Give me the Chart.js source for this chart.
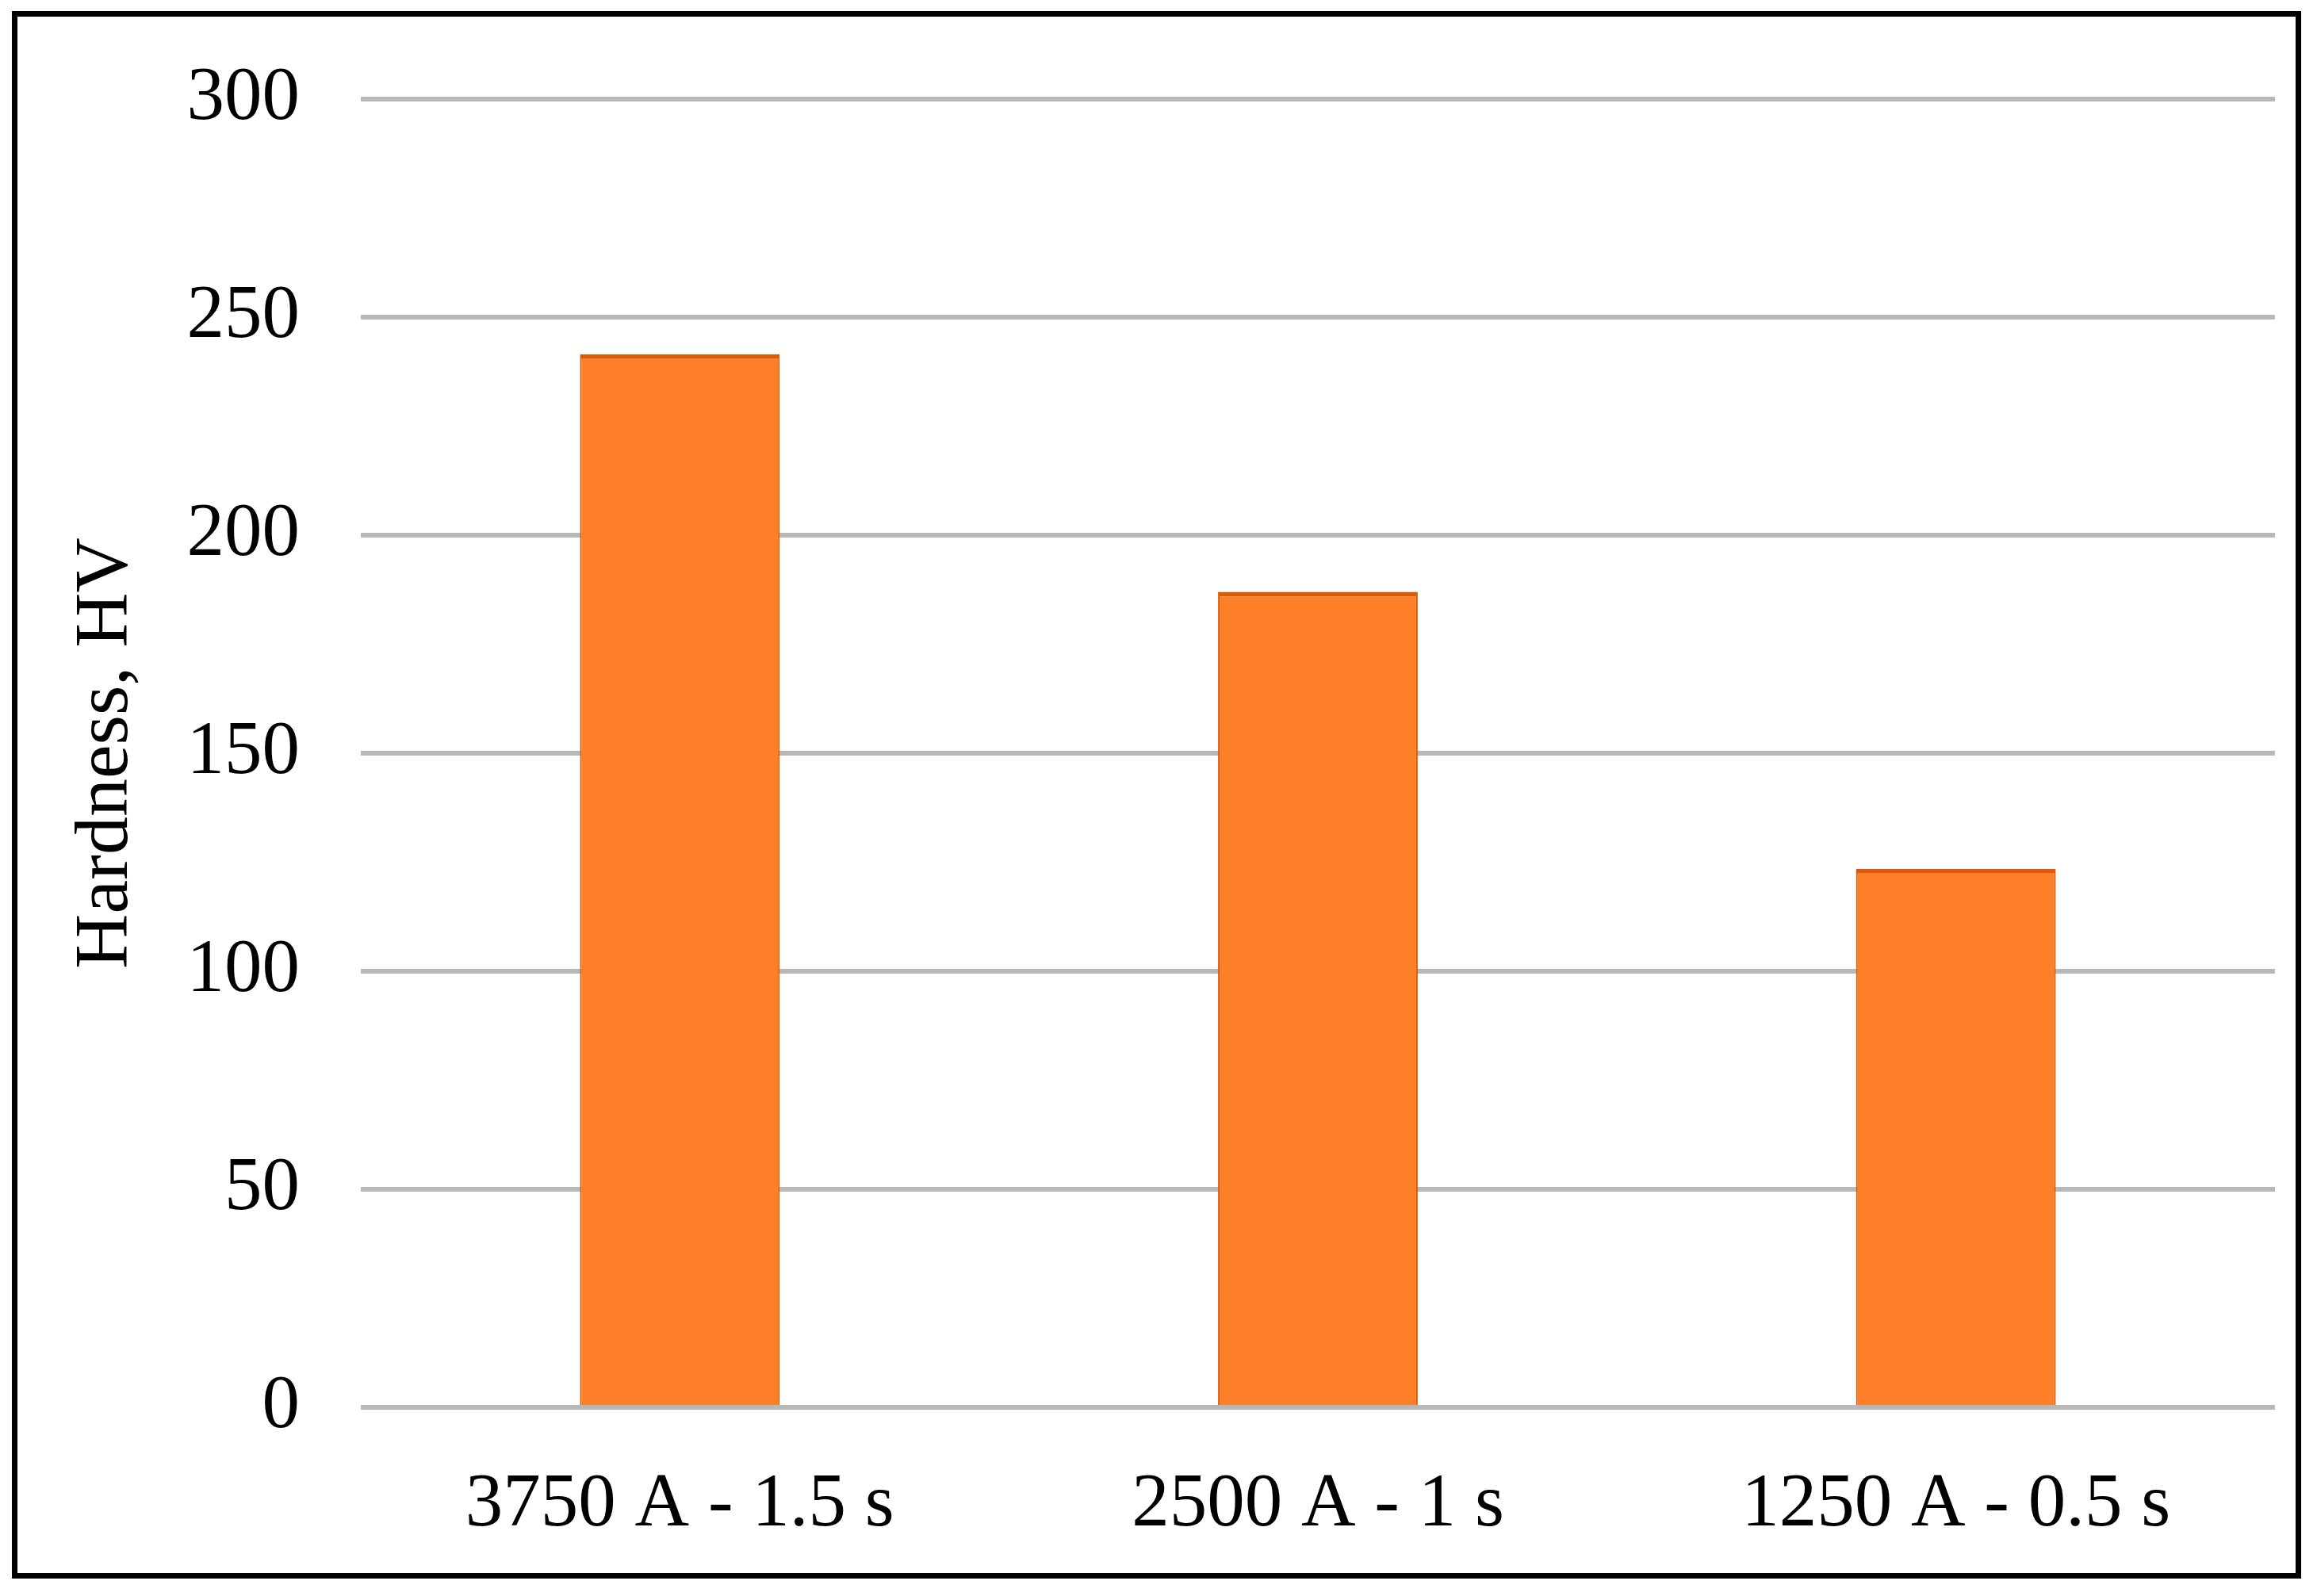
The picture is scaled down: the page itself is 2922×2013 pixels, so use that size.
<!DOCTYPE html>
<html>
<head>
<meta charset="utf-8">
<script src="https://cdn.jsdelivr.net/npm/chart.js@4"></script>
<style>
  html, body { margin: 0; padding: 0; background: #fff; }
  canvas { display: block; }
</style>
</head>
<body>
<canvas id="chart" width="2922" height="2013"></canvas>
<script>
// data
const categories = ["3750 A - 1.5 s", "2500 A - 1 s", "1250 A - 0.5 s"];
const hardness = [241.5, 187, 123.5];
const yTicks = [0, 50, 100, 150, 200, 250, 300];

const serif = "'Liberation Serif', 'Times New Roman', serif";

// black frame round the whole picture
const framePlugin = {
    id: "frame",
    afterDraw(chart) {
        const ctx = chart.ctx;
        ctx.save();
        ctx.strokeStyle = "#000";
        ctx.lineWidth = 7;
        ctx.strokeRect(18.5, 17.5, 2880, 1970);
        ctx.restore();
    }
};

new Chart(document.getElementById("chart"), {
    type: "bar",
    data: {
        labels: categories,
        datasets: [{
            data: hardness,
            backgroundColor: "#fd7f28",
            borderColor: "#dd5a06",
            borderWidth: { top: 6, left: 2, right: 2, bottom: 0 },
            borderSkipped: "bottom",
            barPercentage: 0.313,
            categoryPercentage: 1
        }]
    },
    options: {
        responsive: false,
        animation: false,
        devicePixelRatio: 1,
        layout: { padding: { top: 125, right: 53, bottom: 0, left: 0 } },
        plugins: {
            legend: { display: false },
            tooltip: { enabled: false }
        },
        scales: {
            x: {
                grid: { display: false, drawTicks: false },
                border: { display: false },
                ticks: {
                    padding: 67,
                    color: "#000",
                    font: { family: serif, size: 95 }
                },
                afterFit(scale) { scale.height = 238; }
            },
            y: {
                min: 0,
                max: 300,
                afterBuildTicks(scale) {
                    scale.ticks = yTicks.map(v => ({ value: v }));
                },
                grid: { color: "#b8b8b8", lineWidth: 6, drawTicks: false },
                border: { display: false },
                ticks: {
                    padding: 77,
                    color: "#000",
                    font: { family: serif, size: 95 }
                },
                title: {
                    display: true,
                    text: "Hardness, HV",
                    color: "#000",
                    padding: { top: 77, bottom: 0 },
                    font: { family: serif, size: 96 }
                },
                afterFit(scale) {
                    scale.width = 455;
                    // tick padding should not push the plot area down
                    scale.paddingTop = 0;
                    scale.paddingBottom = 0;
                }
            }
        }
    },
    plugins: [framePlugin]
});
</script>
</body>
</html>
